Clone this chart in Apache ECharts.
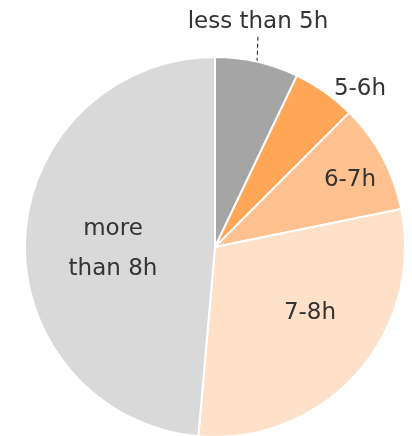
<!DOCTYPE html>
<html>
<head>
<meta charset="utf-8">
<script src="https://cdn.jsdelivr.net/npm/echarts@6/dist/echarts.min.js"></script>
<style>
  html, body { margin: 0; padding: 0; background: #fff; }
  #chart { width: 412px; height: 436px; }
</style>
</head>
<body>
<div id="chart"></div>
<script>
// sleep duration shares (%)
const categories = ['less than 5h', '5-6h', '6-7h', '7-8h', 'more\nthan 8h'];
const shares = [7.1, 5.4, 9.3, 29.6, 48.6];
const sliceColors = ['#a5a5a5', '#ffa757', '#ffc18f', '#ffe1c9', '#d9d9d9'];

// label centres (px), Excel-like "best fit" placement
const labelPos = [[258, 22], [360, 89], [350, 180], [310, 313], [113, 249]];

const chart = echarts.init(document.getElementById('chart'));

chart.setOption({
  animation: false,
  series: [
    {
      type: 'pie',
      center: [215, 247],
      radius: 190,
      startAngle: 90,
      clockwise: true,
      itemStyle: { borderColor: '#fff', borderWidth: 2 },
      label: {
        show: true,
        color: '#333',
        fontFamily: 'DejaVu Sans',
        fontSize: 23,
        lineHeight: 40,
        overflow: 'none',
        formatter: '{b}',
      },
      labelLine: { show: false },
      labelLayout: (p) => ({
        x: labelPos[p.dataIndex][0],
        y: labelPos[p.dataIndex][1],
        align: 'center',
        verticalAlign: 'middle',
      }),
      data: categories.map((name, i) => ({
        name,
        value: shares[i],
        itemStyle: { color: sliceColors[i] },
        label: i === 0
          ? { position: 'outside', overflow: 'none', width: 200, lineHeight: 28 }
          : { position: 'inside' },
        labelLine: i === 0
          ? { show: true, length: 12, length2: 0, lineStyle: { color: '#111', width: 1, type: [4, 3] } }
          : { show: false },
      })),
    },
  ],
});
</script>
</body>
</html>
